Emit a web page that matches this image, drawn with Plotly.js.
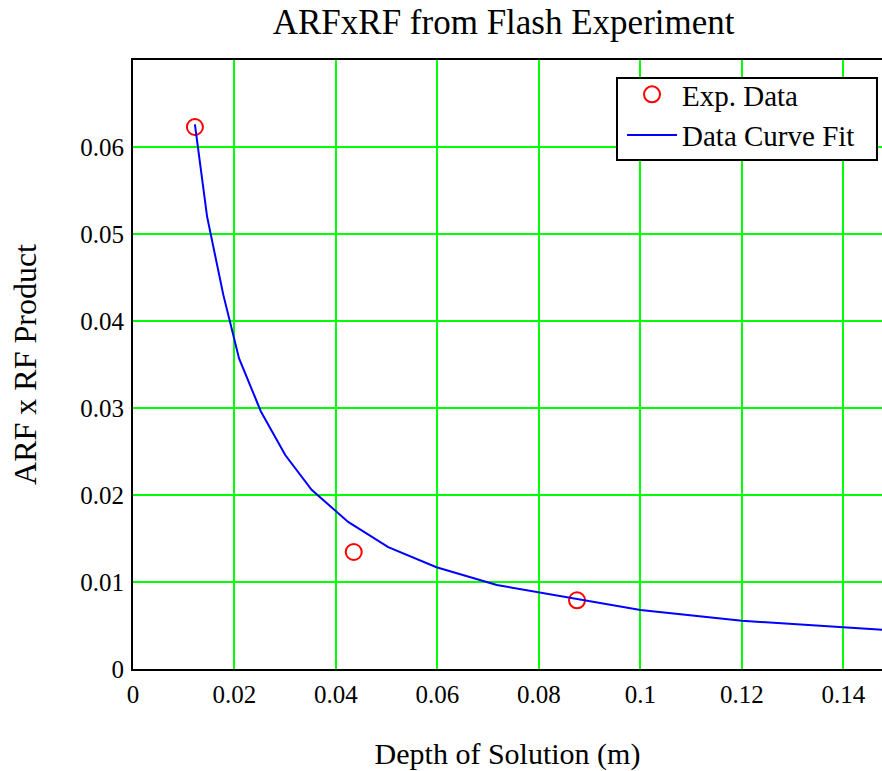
<!DOCTYPE html>
<html>
<head>
<meta charset="utf-8">
<script src="https://cdn.plot.ly/plotly-3.0.1.min.js"></script>
<style>html,body{margin:0;padding:0;background:#fff;}#chart{width:882px;height:771px;}</style>
</head>
<body>
<div id="chart"></div>
<script>
// Experimental data points
const expDepth = [0.0122, 0.0435, 0.0875];
const expValue = [0.0623, 0.01345, 0.0079];

// Curve-fit line
const fitDepth = [0.0122, 0.0146, 0.0178, 0.0209, 0.0252, 0.0300, 0.0352, 0.0424, 0.0503, 0.0598, 0.0717, 0.0850, 0.1000, 0.1200, 0.1400, 0.1500];
const fitValue = [0.0626, 0.0520, 0.0430, 0.0357, 0.0296, 0.0246, 0.0206, 0.0169, 0.0140, 0.0117, 0.00965, 0.00827, 0.00678, 0.00555, 0.00474, 0.00442];

const xTickVals = [0, 0.02, 0.04, 0.06, 0.08, 0.1, 0.12, 0.14];
const xTickText = ["0", "0.02", "0.04", "0.06", "0.08", "0.1", "0.12", "0.14"];
const yTickVals = [0, 0.01, 0.02, 0.03, 0.04, 0.05, 0.06];
const yTickText = ["0", "0.01", "0.02", "0.03", "0.04", "0.05", "0.06"];

const serif = "Liberation Serif, Times New Roman, serif";

const traces = [
  {
    x: expDepth, y: expValue, type: "scatter", mode: "markers", name: "Exp. Data",
    marker: {symbol: "circle-open", size: 16, color: "#ff0000", line: {width: 2, color: "#ff0000"}},
    cliponaxis: false
  },
  {
    x: fitDepth, y: fitValue, type: "scatter", mode: "lines", name: "Data Curve Fit",
    line: {color: "#0000ff", width: 2}
  }
];

const layout = {
  width: 882, height: 771,
  margin: {l: 133, r: 0, t: 60, b: 102},
  paper_bgcolor: "#ffffff", plot_bgcolor: "#ffffff",
  font: {family: serif, color: "#000000"},
  title: {text: "ARFxRF from Flash Experiment", font: {family: serif, size: 35, color: "#000"}, x: 0.571, xanchor: "center", y: 0.972, yanchor: "middle"},
  xaxis: {
    range: [0, 0.1476], tickvals: xTickVals, ticktext: xTickText,
    showgrid: true, gridcolor: "#00ff00", gridwidth: 2, zeroline: false,
    showline: true, linecolor: "#000000", linewidth: 2, mirror: true,
    ticks: "", ticklabelstandoff: 2,
    tickfont: {family: serif, size: 25, color: "#000"},
    title: {text: "Depth of Solution (m)", font: {family: serif, size: 30, color: "#000"}, standoff: 40}
  },
  yaxis: {
    range: [0, 0.07], tickvals: yTickVals, ticktext: yTickText,
    showgrid: true, gridcolor: "#00ff00", gridwidth: 2, zeroline: false,
    showline: true, linecolor: "#000000", linewidth: 2,
    ticks: "", ticklabelstandoff: 2,
    tickfont: {family: serif, size: 25, color: "#000"},
    title: {text: "ARF x RF Product", font: {family: serif, size: 32, color: "#000"}, standoff: 34}
  },
  shapes: [
    {type: "rect", xref: "paper", yref: "paper", x0: 0.6462, x1: 0.9933, y0: 0.8358, y1: 0.9704,
     fillcolor: "#ffffff", line: {color: "#000000", width: 2}, layer: "above"}
  ],
  legend: {
    x: 0.6529, xanchor: "left", y: 0.9852, yanchor: "top",
    bgcolor: "rgba(0,0,0,0)", borderwidth: 0,
    font: {family: serif, size: 29, color: "#000"},
    itemwidth: 50, tracegroupgap: 0
  },
  showlegend: true
};

Plotly.newPlot("chart", traces, layout, {displayModeBar: false, staticPlot: true});
</script>
</body>
</html>
